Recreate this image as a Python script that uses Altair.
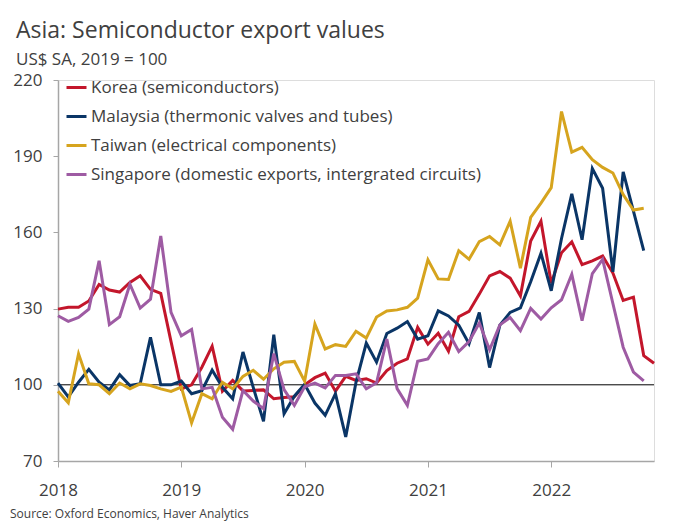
import altair as alt
import pandas as pd

months = pd.date_range("2018-01-01", periods=59, freq="MS").strftime("%Y-%m-%d").tolist()

korea = [129.8, 130.5, 130.5, 133.0, 139.5, 137.3, 136.5, 140.3, 142.9, 137.6,
         136.0, 117.0, 98.4, 100.0, 106.9, 115.2, 97.5, 101.7, 97.6, 97.8,
         98.0, 94.5, 95.0, 95.3, 100.0, 102.8, 104.6, 97.5, 103.3, 101.7,
         102.4, 100.7, 105.6, 108.5, 110.2, 122.6, 116.0, 120.3, 113.2, 126.8,
         128.9, 135.7, 142.9, 144.6, 142.0, 135.0, 156.6, 164.4, 140.0, 152.0,
         156.3, 147.3, 148.8, 150.7, 144.0, 133.2, 134.5, 111.5, 108.5]
malaysia = [100.7, 95.2, 101.0, 106.1, 101.0, 98.0, 104.0, 99.7, 100.4, 118.7,
            100.0, 100.0, 101.5, 96.5, 97.7, 105.8, 99.0, 94.5, 112.9, 99.0,
            85.6, 119.7, 88.6, 95.5, 100.2, 92.8, 88.0, 96.5, 79.5, 101.0,
            116.4, 108.9, 120.2, 122.3, 124.9, 118.0, 119.3, 129.1, 127.1, 123.5,
            116.2, 128.5, 106.8, 123.5, 128.5, 130.3, 140.6, 151.8, 137.0, 157.6,
            175.2, 157.1, 185.1, 177.4, 144.5, 183.8, 168.4, 152.8]
taiwan = [97.5, 92.9, 112.2, 100.4, 100.0, 96.5, 100.7, 98.4, 100.4, 99.7,
          98.4, 97.4, 99.1, 85.0, 96.5, 94.5, 101.0, 98.4, 103.3, 105.7,
          102.2, 106.3, 108.9, 109.2, 101.4, 123.9, 114.1, 115.8, 115.1, 121.1,
          118.4, 126.7, 129.1, 129.5, 130.5, 134.1, 149.2, 141.7, 141.5, 152.8,
          149.4, 156.4, 158.4, 155.1, 164.4, 145.9, 165.9, 171.5, 177.6, 207.6,
          191.6, 193.5, 188.6, 185.6, 183.4, 174.9, 168.8, 169.5]
singapore = [127.2, 125.0, 126.5, 129.8, 148.8, 123.7, 126.8, 139.6, 130.2, 133.7,
             158.6, 128.5, 119.3, 121.8, 98.4, 99.0, 87.2, 82.5, 97.8, 93.6,
             90.6, 112.3, 98.1, 91.9, 99.2, 100.7, 98.8, 103.7, 103.7, 104.3,
             98.4, 100.8, 118.0, 98.5, 91.9, 109.3, 110.2, 116.2, 120.7, 113.1,
             117.0, 124.3, 113.8, 123.6, 126.5, 121.3, 130.1, 125.9, 130.3, 133.5,
             143.5, 125.2, 143.8, 149.4, 132.0, 114.8, 105.0, 101.5]

series_names = ["Korea (semiconductors)",
                "Malaysia (thermonic valves and tubes)",
                "Taiwan (electrical components)",
                "Singapore (domestic exports, intergrated circuits)"]
series_values = [korea, malaysia, taiwan, singapore]
colors = ["#C3162B", "#0A3566", "#D6A41E", "#9E5BA3"]

year_ticks = [0, 12, 24, 36, 48]
y_ticks = [70, 100, 130, 160, 190, 220]

rows = []
for name, vals in zip(series_names, series_values):
    for i, v in enumerate(vals):
        rows.append({"series": name, "date": months[i], "m": i, "value": v})
df = pd.DataFrame(rows)

FONT = "Open Sans"
TXT = "#404040"
AX = "#A6A6A6"

lines = alt.Chart(df).mark_line(strokeWidth=3, strokeJoin="miter").encode(
    x=alt.X("m:Q", scale=alt.Scale(domain=[0, 58], nice=False, zero=False),
            axis=alt.Axis(values=year_ticks, labelExpr="2018 + datum.value / 12",
                          title=None, grid=False, domainColor=AX, tickColor=AX,
                          tickSize=6, labelFontSize=17, labelColor=TXT, labelFont=FONT,
                          labelPadding=15, labelFlush=False, domainWidth=1.5, tickWidth=1)),
    y=alt.Y("value:Q", scale=alt.Scale(domain=[70, 220], nice=False, zero=False),
            axis=alt.Axis(values=y_ticks, title=None, grid=False, domainColor=AX,
                          tickColor=AX, tickSize=5, labelFontSize=17, labelColor=TXT,
                          labelFont=FONT, labelPadding=11, domainWidth=1.5, tickWidth=1)),
    color=alt.Color("series:N",
                    scale=alt.Scale(domain=series_names, range=colors),
                    sort=series_names,
                    legend=alt.Legend(orient="none", legendX=7, legendY=-4, title=None,
                                      symbolType="stroke", symbolSize=400,
                                      symbolStrokeWidth=3, labelFontSize=17,
                                      labelColor=TXT, labelFont=FONT, rowPadding=9,
                                      labelOffset=3, padding=0, labelLimit=600)),
    detail="series:N",
)

base_df = pd.DataFrame({"y": [100]})
rule = alt.Chart(base_df).mark_rule(color="black", strokeWidth=1).encode(y="y:Q")

source = alt.Chart(pd.DataFrame({"t": ["Source: Oxford Economics, Haver Analytics"]})).mark_text(
    align="left", baseline="middle", fontSize=12, font=FONT, color=TXT
).encode(text="t:N", x=alt.value(-48), y=alt.value(434))

chart = alt.layer(rule, lines, source).properties(
    width=596, height=381,
    autosize=alt.AutoSizeParams(type="none"),
    padding={"left": 50, "top": 72, "right": 10, "bottom": 60},
    title=alt.TitleParams(
        text="Asia: Semiconductor export values",
        subtitle="US$ SA, 2019 = 100",
        anchor="start", frame="group", dx=-42, offset=3,
        fontSize=23, font=FONT, fontWeight="normal", color=TXT,
        subtitleFontSize=17, subtitleFont=FONT, subtitleColor=TXT,
        subtitlePadding=9,
    ),
).configure_view(stroke=None).configure(background="white")

chart.save("out.html", embed_options={"renderer": "svg", "actions": False})
